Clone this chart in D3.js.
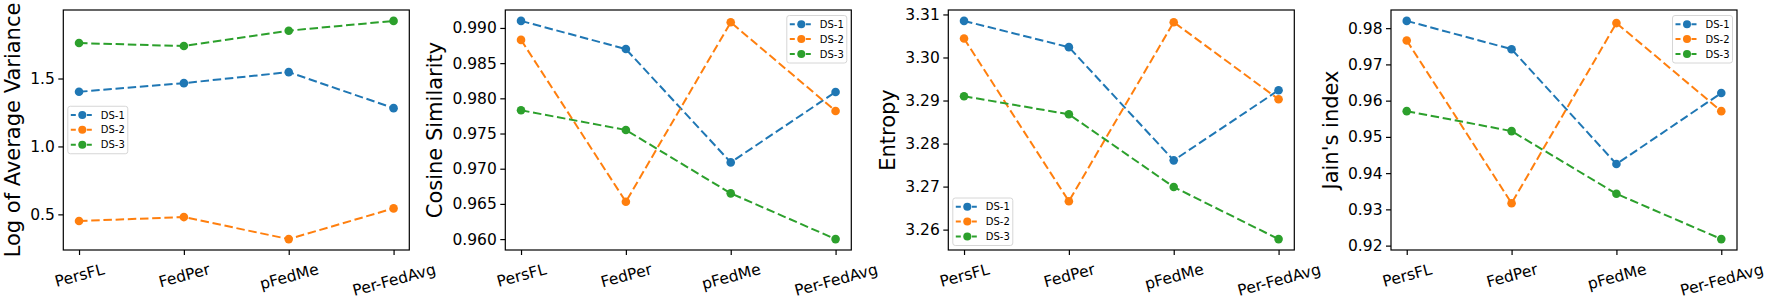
<!DOCTYPE html>
<html>
<head>
<meta charset="utf-8">
<script src="https://cdn.jsdelivr.net/npm/d3@7"></script>
<style>
body { margin: 0; background: #fff; }
text { font-family: "DejaVu Sans", sans-serif; fill: #000; }
</style>
</head>
<body>
<div id="chart"></div>
<script>
var methods = ["PersFL", "FedPer", "pFedMe", "Per-FedAvg"];
var seriesNames = ["DS-1", "DS-2", "DS-3"];
var colors = ["#1f77b4", "#ff7f0e", "#2ca02c"];

var varianceDS1 = [1.402, 1.466, 1.547, 1.282];
var varianceDS2 = [0.451, 0.480, 0.318, 0.544];
var varianceDS3 = [1.761, 1.739, 1.852, 1.924];
var varianceTicks = [0.5, 1.0, 1.5];

var cosineDS1 = [0.9910, 0.9870, 0.9709, 0.9809];
var cosineDS2 = [0.9883, 0.9653, 0.9908, 0.9782];
var cosineDS3 = [0.9783, 0.9755, 0.9665, 0.9600];
var cosineTicks = [0.960, 0.965, 0.970, 0.975, 0.980, 0.985, 0.990];

var entropyDS1 = [3.3085, 3.3024, 3.2761, 3.2924];
var entropyDS2 = [3.3044, 3.2666, 3.3082, 3.2903];
var entropyDS3 = [3.2910, 3.2868, 3.2699, 3.2578];
var entropyTicks = [3.26, 3.27, 3.28, 3.29, 3.30, 3.31];

var jainDS1 = [0.9820, 0.9742, 0.9425, 0.9621];
var jainDS2 = [0.9766, 0.9317, 0.9814, 0.9571];
var jainDS3 = [0.9571, 0.9516, 0.9343, 0.9218];
var jainTicks = [0.92, 0.93, 0.94, 0.95, 0.96, 0.97, 0.98];

var panels = [
	{ label: "Log of Average Variance", series: [varianceDS1, varianceDS2, varianceDS3], ticks: varianceTicks, fmt: ".1f", legend: "center left" },
	{ label: "Cosine Similarity", series: [cosineDS1, cosineDS2, cosineDS3], ticks: cosineTicks, fmt: ".3f", legend: "upper right" },
	{ label: "Entropy", series: [entropyDS1, entropyDS2, entropyDS3], ticks: entropyTicks, fmt: ".2f", legend: "lower left" },
	{ label: "Jain's index", series: [jainDS1, jainDS2, jainDS3], ticks: jainTicks, fmt: ".2f", legend: "upper right" }
];

var W = 1774, H = 304;
var lefts = [63.3, 505.3, 948.3, 1391];
var pw = 346, plotTop = 10, plotBottom = 250;
var tickFont = 15.5;

var svg = d3.select("#chart").append("svg")
	.attr("width", W).attr("height", H);
svg.append("rect").attr("width", W).attr("height", H).attr("fill", "#fff");

function drawPanel(p, left) {
	var g = svg.append("g");
	var x = d3.scalePoint().domain(methods).range([left, left + pw]).padding(0.15);
	var ext = d3.extent(d3.merge(p.series));
	var pad = (ext[1] - ext[0]) * 0.05;
	var y = d3.scaleLinear().domain([ext[0] - pad, ext[1] + pad]).range([plotBottom, plotTop]);

	var line = d3.line()
		.x(function(d, i) { return x(methods[i]); })
		.y(function(d) { return y(d); });

	g.selectAll("path.series")
	 .data(p.series)
	 .enter()
	 .append("path")
	 .attr("class", "series")
	 .attr("d", line)
	 .attr("fill", "none")
	 .attr("stroke", function(d, i) { return colors[i]; })
	 .attr("stroke-width", 2)
	 .attr("stroke-dasharray", "8.5,3.7");

	p.series.forEach(function(s, si) {
		g.selectAll("circle.s" + si)
		 .data(s)
		 .enter()
		 .append("circle")
		 .attr("class", "s" + si)
		 .attr("cx", function(d, i) { return x(methods[i]); })
		 .attr("cy", function(d) { return y(d); })
		 .attr("r", 4.3)
		 .attr("fill", colors[si]);
	});

	// frame
	g.append("rect")
	 .attr("x", left).attr("y", plotTop)
	 .attr("width", pw).attr("height", plotBottom - plotTop)
	 .attr("fill", "none").attr("stroke", "#000").attr("stroke-width", 1.2);

	// y axis
	var ya = g.append("g")
		.attr("transform", "translate(" + left + ",0)")
		.call(d3.axisLeft(y).tickValues(p.ticks).tickFormat(d3.format(p.fmt)).tickSize(5).tickPadding(3.5));
	ya.select(".domain").remove();
	ya.selectAll("line").attr("stroke", "#000").attr("stroke-width", 1.2);
	ya.selectAll("text").attr("font-size", tickFont).attr("font-family", "DejaVu Sans").attr("fill", "#000");

	// x axis
	var xa = g.append("g")
		.attr("transform", "translate(0," + plotBottom + ")")
		.call(d3.axisBottom(x).tickSize(5));
	xa.select(".domain").remove();
	xa.selectAll("line").attr("stroke", "#000").attr("stroke-width", 1.2);
	xa.selectAll("text")
	 .attr("font-size", tickFont)
	 .attr("font-family", "DejaVu Sans")
	 .attr("fill", "#000")
	 .attr("y", null)
	 .attr("dy", "0.346em")
	 .attr("transform", function() {
		var L = this.getComputedTextLength();
		var a = 15 * Math.PI / 180;
		var bh = L * Math.sin(a) + tickFont * 1.164 * Math.cos(a);
		return "translate(0," + (10 + bh / 2) + ") rotate(-15)";
	 });

	// y label
	var bx = ya.node().getBBox().x + left;
	g.append("text")
	 .attr("transform", "translate(" + (bx - 10) + "," + ((plotTop + plotBottom) / 2) + ") rotate(-90)")
	 .attr("text-anchor", "middle")
	 .attr("font-size", 21)
	 .text(p.label);

	drawLegend(g, p.legend, left);
}

function drawLegend(g, loc, left) {
	var lw = 60, lh = 47.5, m = 4.5;
	var x0 = loc.indexOf("left") >= 0 ? left + m : left + pw - m - lw;
	var y0;
	if (loc.indexOf("upper") >= 0) y0 = plotTop + m + 1;
	else if (loc.indexOf("lower") >= 0) y0 = plotBottom - m - lh;
	else y0 = (plotTop + plotBottom) / 2 - lh / 2;

	var lg = g.append("g").attr("transform", "translate(" + x0 + "," + y0 + ")");
	lg.append("rect")
	 .attr("width", lw).attr("height", lh)
	 .attr("rx", 2.5)
	 .attr("fill", "#fff").attr("fill-opacity", 0.8)
	 .attr("stroke", "#d6d6d6").attr("stroke-width", 1);

	var rows = lg.selectAll("g.row")
		.data(seriesNames)
		.enter()
		.append("g")
		.attr("class", "row")
		.attr("transform", function(d, i) { return "translate(0," + (8.8 + i * 14.8) + ")"; });

	rows.append("line")
	 .attr("x1", 3).attr("x2", 25)
	 .attr("stroke", function(d, i) { return colors[i]; })
	 .attr("stroke-width", 2)
	 .attr("stroke-dasharray", "5,3");
	rows.append("circle")
	 .attr("cx", 14.5).attr("r", 4)
	 .attr("fill", function(d, i) { return colors[i]; });
	rows.append("text")
	 .attr("x", 33)
	 .attr("dy", "0.36em")
	 .attr("font-size", 10)
	 .text(function(d) { return d; });
}

panels.forEach(function(p, i) { drawPanel(p, lefts[i]); });
</script>
</body>
</html>
